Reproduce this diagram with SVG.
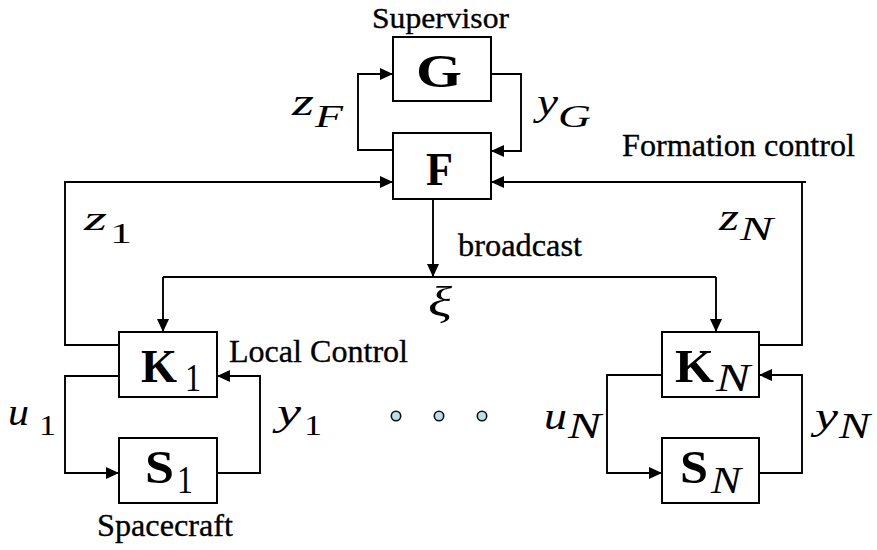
<svg xmlns="http://www.w3.org/2000/svg" width="877" height="550" viewBox="0 0 877 550" font-family="Liberation Serif, Times New Roman, serif">
<style>
.box{fill:#fff;stroke:#000;stroke-width:2}
.ln{fill:none;stroke:#000;stroke-width:1.9}
.arr{marker-end:url(#ah)}
.lbl{font-size:32px;fill:#000;stroke:#000;stroke-width:0.35}
.bf{font-weight:bold;font-size:47px;fill:#000}
.it{font-style:italic;fill:#000}
.dot{fill:#b9e0e6;stroke:#111;stroke-width:1.6}
</style>
<defs>
<marker id="ah" markerUnits="userSpaceOnUse" markerWidth="13" markerHeight="12" refX="13" refY="6" orient="auto">
<path d="M0,0 L13,6 L0,12 z" fill="#000"/>
</marker>
</defs>

<g id="connectors">
<path class="ln arr" d="M393,150 H358 V74 H393"/>
<path class="ln arr" d="M489,74 H521 V151 H491"/>
<path class="ln arr" d="M119,345 H65 V182 H393"/>
<path class="ln" d="M759,345 H802 V182"/>
<path class="ln arr" d="M806,182 H491"/>
<path class="ln arr" d="M433,199 V277"/>
<path class="ln" d="M163,277 H716"/>
<path class="ln arr" d="M163,277 V332"/>
<path class="ln arr" d="M716,277 V332"/>
<path class="ln arr" d="M119,376 H65 V473 H119"/>
<path class="ln arr" d="M217,473 H260 V376 H217"/>
<path class="ln arr" d="M662,375 H607 V473 H662"/>
<path class="ln arr" d="M759,473 H802 V375 H759"/>
</g>

<g id="node-G">
<rect class="box" x="393" y="37" width="98" height="64"/>
<text class="bf" x="416" y="87" textLength="46" lengthAdjust="spacingAndGlyphs">G</text>
</g>
<g id="node-F">
<rect class="box" x="393" y="133" width="98" height="66"/>
<text class="bf" x="426" y="185" textLength="27" lengthAdjust="spacingAndGlyphs">F</text>
</g>
<g id="node-K1">
<rect class="box" x="119" y="332" width="98" height="65"/>
<text class="bf" x="141" y="382" textLength="36" lengthAdjust="spacingAndGlyphs">K</text>
<text x="185" y="391" font-size="40" textLength="16" lengthAdjust="spacingAndGlyphs">1</text>
</g>
<g id="node-S1">
<rect class="box" x="119" y="438" width="98" height="65"/>
<text class="bf" x="145" y="483" textLength="29" lengthAdjust="spacingAndGlyphs">S</text>
<text x="177" y="493" font-size="40" textLength="16" lengthAdjust="spacingAndGlyphs">1</text>
</g>
<g id="node-KN">
<rect class="box" x="662" y="332" width="97" height="65"/>
<text class="bf" x="675" y="382" textLength="39" lengthAdjust="spacingAndGlyphs">K</text>
<text class="it" x="716" y="391" font-size="40" textLength="34" lengthAdjust="spacingAndGlyphs">N</text>
</g>
<g id="node-SN">
<rect class="box" x="662" y="438" width="97" height="65"/>
<text class="bf" x="680" y="483" textLength="28" lengthAdjust="spacingAndGlyphs">S</text>
<text class="it" x="711" y="493" font-size="38" textLength="30" lengthAdjust="spacingAndGlyphs">N</text>
</g>

<g id="labels">
<text class="lbl" x="372" y="28" font-size="30" textLength="137" lengthAdjust="spacingAndGlyphs" style="font-size:30px">Supervisor</text>
<text class="lbl" x="622" y="156" textLength="233" lengthAdjust="spacingAndGlyphs">Formation control</text>
<text class="lbl" x="458" y="256" textLength="124" lengthAdjust="spacingAndGlyphs">broadcast</text>
<text class="lbl" x="229" y="362" textLength="179" lengthAdjust="spacingAndGlyphs">Local Control</text>
<text class="lbl" x="97" y="536" textLength="136" lengthAdjust="spacingAndGlyphs">Spacecraft</text>

<text class="it" x="292" y="115" font-size="38" textLength="22" lengthAdjust="spacingAndGlyphs">z</text>
<text class="it" x="315" y="127" font-size="31" textLength="28" lengthAdjust="spacingAndGlyphs">F</text>

<text class="it" x="537" y="115" font-size="38" textLength="21" lengthAdjust="spacingAndGlyphs">y</text>
<text class="it" x="558" y="127" font-size="31" textLength="33" lengthAdjust="spacingAndGlyphs">G</text>

<text class="it" x="84" y="230" font-size="34" textLength="23" lengthAdjust="spacingAndGlyphs">z</text>
<text x="110" y="243" font-size="29" textLength="22" lengthAdjust="spacingAndGlyphs">1</text>

<text class="it" x="719" y="230" font-size="38" textLength="20" lengthAdjust="spacingAndGlyphs">z</text>
<text class="it" x="740" y="240" font-size="34" textLength="33" lengthAdjust="spacingAndGlyphs">N</text>

<text class="it" x="428" y="316" font-size="42" textLength="24" lengthAdjust="spacingAndGlyphs">ξ</text>

<text class="it" x="8" y="425" font-size="38" textLength="21" lengthAdjust="spacingAndGlyphs">u</text>
<text x="39" y="435" font-size="29" textLength="17" lengthAdjust="spacingAndGlyphs">1</text>

<text class="it" x="277" y="425" font-size="38" textLength="24" lengthAdjust="spacingAndGlyphs">y</text>
<text x="304" y="435" font-size="29" textLength="18" lengthAdjust="spacingAndGlyphs">1</text>

<text class="it" x="544" y="429" font-size="38" textLength="23" lengthAdjust="spacingAndGlyphs">u</text>
<text class="it" x="568" y="438" font-size="35" textLength="33" lengthAdjust="spacingAndGlyphs">N</text>

<text class="it" x="815" y="429" font-size="38" textLength="23" lengthAdjust="spacingAndGlyphs">y</text>
<text class="it" x="839" y="438" font-size="35" textLength="31" lengthAdjust="spacingAndGlyphs">N</text>
</g>

<g id="dots">
<circle class="dot" cx="396" cy="416" r="4.7"/>
<circle class="dot" cx="439" cy="416" r="4.7"/>
<circle class="dot" cx="482" cy="416" r="4.7"/>
</g>
</svg>
